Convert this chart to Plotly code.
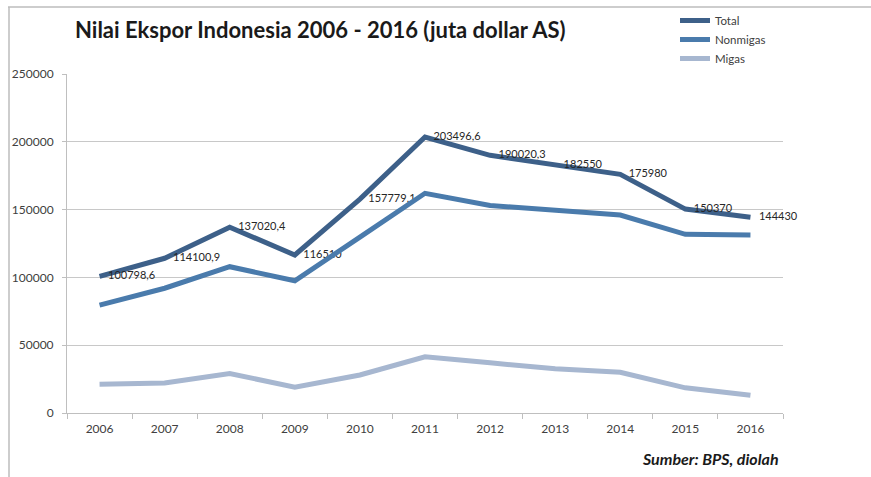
import plotly.graph_objects as go

years = ["2006", "2007", "2008", "2009", "2010", "2011", "2012", "2013", "2014", "2015", "2016"]
total = [100798.6, 114100.9, 137020.4, 116510, 157779.1, 203496.6, 190020.3, 182550, 175980, 150370, 144430]
nonmigas = [79589.1, 92012.3, 107894.2, 97491.7, 129739.5, 162019.6, 153043.0, 149918.8, 145961.2, 131791.9, 131324.0]
migas = [21209.5, 22088.6, 29126.3, 19018.3, 28039.6, 41477.0, 36977.3, 32633.0, 30018.8, 18574.4, 13105.5]

def fmt(v):
    s = ("%.1f" % v).rstrip("0").rstrip(".")
    return "   " + s.replace(".", ",")

total_labels = [fmt(v) for v in total]

FONT = "Lato, 'Liberation Sans', sans-serif"

fig = go.Figure()
fig.add_trace(go.Scatter(x=years, y=total, name="Total", mode="lines+text",
                         line=dict(color="#3d6089", width=5),
                         text=total_labels, textposition="middle right",
                         cliponaxis=False,
                         textfont=dict(family=FONT, size=11, color="#262626")))
fig.add_trace(go.Scatter(x=years, y=nonmigas, name="Nonmigas", mode="lines",
                         line=dict(color="#4a7bac", width=5)))
fig.add_trace(go.Scatter(x=years, y=migas, name="Migas", mode="lines",
                         line=dict(color="#a7b7d0", width=5)))

L, R, T, B = 67, 783, 74, 413
W, H = 871, 477
pw, ph = R - L, B - T

def px(x):
    return (x - L) / pw

def py(y):
    return (B - y) / ph

fig.update_layout(
    width=W, height=H,
    margin=dict(l=L, r=W - R, t=T, b=H - B, autoexpand=False),
    paper_bgcolor="white", plot_bgcolor="white",
    font=dict(family=FONT, color="#404040"),
    showlegend=True,
    legend=dict(x=px(675), y=py(6), xanchor="left", yanchor="top",
                font=dict(family=FONT, size=11.5, color="#404040"),
                itemwidth=30, tracegroupgap=0, bgcolor="rgba(0,0,0,0)"),
    xaxis=dict(type="category", showgrid=False, showline=True, linecolor="#bfbfbf",
               linewidth=1, ticks="outside", tickson="boundaries", ticklen=5,
               tickcolor="#bfbfbf", tickfont=dict(family=FONT, size=12, color="#404040"),
               ticklabelstandoff=5,
               range=[-0.5, 10.5], fixedrange=True),
    yaxis=dict(range=[0, 250000], dtick=50000, showgrid=True, gridcolor="#c8c8c8",
               gridwidth=1, showline=True, linecolor="#bfbfbf", ticks="outside",
               ticklen=4, tickcolor="#bfbfbf", zeroline=False, tickformat="d",
               ticklabelstandoff=6,
               tickfont=dict(family=FONT, size=12, color="#404040")),
    annotations=[
        dict(text="<b>Nilai Ekspor Indonesia 2006 - 2016 (juta dollar AS)</b>",
             xref="paper", yref="paper", x=px(73), y=py(30), xanchor="left",
             yanchor="middle", showarrow=False,
             font=dict(family=FONT, size=22, color="#1a1a1a")),
        dict(text="<b><i>Sumber: BPS, diolah</i></b>",
             xref="paper", yref="paper", x=px(781), y=py(458), xanchor="right",
             yanchor="middle", showarrow=False,
             font=dict(family=FONT, size=16, color="#1a1a1a")),
    ],
    shapes=[
        dict(type="line", xref="paper", yref="paper", x0=px(8), x1=px(871),
             y0=py(7), y1=py(7), line=dict(color="#bdbdbd", width=1.5)),
        dict(type="line", xref="paper", yref="paper", x0=px(9), x1=px(9),
             y0=py(7), y1=py(477), line=dict(color="#bdbdbd", width=1.5)),
    ],
)

fig.write_html("out.html")
